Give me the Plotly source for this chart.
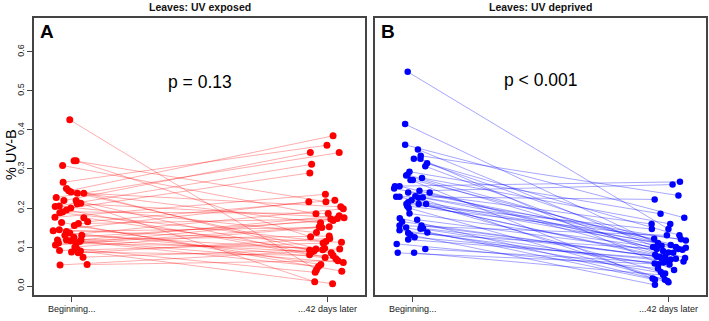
import plotly.graph_objects as go

time_labels = ["Beginning...", "...42 days later"]
time_positions = [1, 2]
panel_titles = ["Leaves: UV exposed", "Leaves: UV deprived"]
panel_letters = ["A", "B"]
p_labels = ["p = 0.13", "p < 0.001"]
y_ticks = [0.0, 0.1, 0.2, 0.3, 0.4, 0.5, 0.6]
y_label = "% UV-B"

# Panel A (UV exposed): paired leaves, value at beginning and after 42 days
exposed_begin = [0.426, 0.321, 0.321, 0.309, 0.266, 0.250, 0.244, 0.241, 0.227, 0.238, 0.238, 0.219, 0.219,
                 0.204, 0.205, 0.211, 0.212, 0.200, 0.195, 0.190, 0.188, 0.176, 0.175, 0.160, 0.155, 0.165,
                 0.142, 0.144, 0.140, 0.136, 0.130, 0.130, 0.125, 0.118, 0.118, 0.116, 0.118, 0.105, 0.110,
                 0.110, 0.114, 0.100, 0.091, 0.087, 0.085, 0.090, 0.074, 0.054, 0.055, 0.163, 0.095]
exposed_begin_jitter = [-0.008, 0.009, 0.017, -0.036, -0.034, -0.021, -0.012, -0.003, -0.061, 0.022, 0.047, -0.031,
                        0.017, -0.065, -0.049, 0.021, 0.035, -0.004, -0.021, -0.036, -0.047, -0.066, 0.047, 0.026,
                        0.010, 0.062, -0.073, -0.049, -0.021, -0.008, -0.027, 0.039, 0.008, -0.056, -0.021, -0.005,
                        0.036, -0.064, -0.052, 0.018, 0.031, 0.012, -0.048, -0.001, 0.025, 0.034, 0.044, -0.046,
                        0.060, -0.040, 0.020]
exposed_end = [0.042, 0.216, 0.126, 0.185, 0.361, 0.092, 0.385, 0.162, 0.342, 0.093, 0.203, 0.342, 0.073, 0.312,
               0.137, 0.175, 0.011, 0.290, 0.080, 0.186, 0.114, 0.235, 0.085, 0.172, 0.055, 0.220, 0.216, 0.112,
               0.150, 0.070, 0.198, 0.095, 0.168, 0.128, 0.060, 0.180, 0.088, 0.152, 0.097, 0.173, 0.050, 0.152,
               0.110, 0.078, 0.122, 0.006, 0.095, 0.090, 0.065, 0.038, 0.035]
exposed_end_jitter = [-0.042, -0.005, -0.065, -0.044, -0.001, -0.069, 0.023, -0.026, 0.047, -0.018, 0.053, -0.066,
                      -0.008, -0.061, -0.042, 0.066, -0.049, -0.068, -0.069, 0.004, -0.005, -0.007, 0.016, 0.014,
                      -0.025, 0.030, -0.072, 0.056, -0.021, 0.034, 0.063, -0.044, 0.023, 0.008, 0.063, 0.047,
                      -0.060, -0.031, -0.010, 0.040, -0.034, 0.008, -0.016, 0.023, 0.010, 0.021, 0.049, -0.052,
                      0.042, 0.057, -0.047]

# Panel B (UV deprived)
deprived_begin = [0.549, 0.415, 0.362, 0.350, 0.334, 0.326, 0.326, 0.315, 0.307, 0.293, 0.285, 0.283, 0.277,
                  0.272, 0.272, 0.256, 0.256, 0.250, 0.244, 0.240, 0.240, 0.229, 0.229, 0.230, 0.226, 0.227,
                  0.220, 0.215, 0.210, 0.200, 0.205, 0.210, 0.210, 0.186, 0.174, 0.165, 0.155, 0.143, 0.170,
                  0.150, 0.155, 0.148, 0.147, 0.137, 0.136, 0.131, 0.119, 0.125, 0.108, 0.095, 0.085, 0.085]
deprived_begin_jitter = [-0.020, -0.030, -0.030, 0.020, 0.031, 0.004, 0.030, 0.056, 0.049, -0.013, -0.021, -0.026,
                         0.036, -0.009, 0.000, -0.070, -0.052, -0.073, 0.026, 0.066, -0.018, -0.065, -0.052, 0.010,
                         0.023, 0.039, -0.005, -0.018, -0.025, -0.016, -0.022, 0.052, 0.023, -0.013, -0.051,
                         -0.042, -0.052, -0.052, 0.017, -0.026, 0.034, 0.040, 0.030, 0.057, -0.018, -0.009, -0.018,
                         0.007, -0.063, 0.049, -0.059, 0.005]
deprived_end = [0.146, 0.103, 0.175, 0.086, 0.232, 0.095, 0.041, 0.130, 0.076, 0.185, 0.110, 0.072, 0.159, 0.019,
                0.098, 0.267, 0.085, 0.121, 0.260, 0.063, 0.159, 0.222, 0.036, 0.100, 0.013, 0.117, 0.105, 0.080,
                0.146, 0.016, 0.120, 0.093, 0.068, 0.100, 0.010, 0.075, 0.130, 0.058, 0.090, 0.016, 0.075, 0.070,
                0.056, 0.032, 0.095, 0.003, 0.070, 0.065, 0.045, 0.060, 0.055, 0.028]
deprived_end_jitter = [0.001, -0.026, 0.063, 0.001, 0.040, 0.040, 0.023, 0.044, -0.012, -0.030, -0.040, 0.066,
                       0.008, -0.061, 0.069, 0.046, 0.020, -0.055, 0.017, 0.060, -0.065, -0.053, -0.029, 0.030,
                       -0.003, 0.069, 0.010, -0.051, -0.064, -0.013, 0.050, 0.056, 0.010, -0.059, 0.001, -0.044,
                       -0.005, -0.053, -0.020, -0.052, -0.033, 0.030, -0.038, -0.012, -0.045, -0.052, -0.025,
                       -0.005, -0.040, -0.018, 0.005, -0.020]

W, H = 709, 321
FONT = "Liberation Sans, Arial, sans-serif"


def px(x):  # pixel x -> paper x
    return x / W


def py(y):  # pixel y (from top) -> paper y
    return (H - y) / H


fig = go.Figure()


def add_panel(begin, bjit, end, ejit, xa, ya, dot, seg, msize):
    lx, ly = [], []
    for b, bj, e, ej in zip(begin, bjit, end, ejit):
        lx += [time_positions[0] + bj, time_positions[1] + ej, None]
        ly += [b, e, None]
    fig.add_trace(go.Scatter(x=lx, y=ly, mode="lines", xaxis=xa, yaxis=ya,
                             line=dict(color=seg, width=1), hoverinfo="skip", showlegend=False))
    xs = [time_positions[0] + j for j in bjit] + [time_positions[1] + j for j in ejit]
    ys = list(begin) + list(end)
    fig.add_trace(go.Scatter(x=xs, y=ys, mode="markers", xaxis=xa, yaxis=ya,
                             marker=dict(color=dot, size=msize, line=dict(width=0)), showlegend=False))


add_panel(exposed_begin, exposed_begin_jitter, exposed_end, exposed_end_jitter,
          "x", "y", "#FF0000", "rgba(255,0,0,0.32)", 7)
add_panel(deprived_begin, deprived_begin_jitter, deprived_end, deprived_end_jitter,
          "x2", "y2", "#0000FF", "rgba(0,0,255,0.35)", 6.5)

box = dict(showline=True, linecolor="#444", linewidth=1.5, mirror=True, showgrid=False, zeroline=False)
xcommon = dict(range=[0.852, 2.148], tickvals=time_positions, showticklabels=False, ticks="outside", ticklen=5,
               tickcolor="#444", automargin=False, **box)
ycommon = dict(range=[-0.023, 0.687], automargin=False, **box)
panels = [(34, 365), (375, 706)]
ydom = [py(295), py(18)]

fig.update_layout(
    width=W, height=H, margin=dict(l=0, r=0, t=0, b=0),
    paper_bgcolor="white", plot_bgcolor="white",
    xaxis=dict(domain=[px(panels[0][0]), px(panels[0][1])], anchor="y", **xcommon),
    xaxis2=dict(domain=[px(panels[1][0]), px(panels[1][1])], anchor="y2", **xcommon),
    yaxis=dict(domain=ydom, anchor="x", tickvals=y_ticks,
               ticktext=[f"{v:.1f}" for v in y_ticks], ticks="outside", ticklen=5, tickcolor="#444",
               tickangle=-90, tickfont=dict(family=FONT, size=9, color="#222"), **ycommon),
    yaxis2=dict(domain=ydom, anchor="x2", showticklabels=False, ticks="", **ycommon),
)

ann = []
for i, (x0, x1) in enumerate(panels):
    xr = "x" if i == 0 else "x2"
    ann.append(dict(text=f"<b>{panel_titles[i]}</b>", x=px((x0 + x1) / 2), y=py(7),
                    xref="paper", yref="paper", showarrow=False, xanchor="center", yanchor="middle",
                    font=dict(family=FONT, size=10.5, color="#111")))
    ann.append(dict(text=f"<b>{panel_letters[i]}</b>", x=px(x0 + 4), y=py(31),
                    xref="paper", yref="paper", showarrow=False, xanchor="left", yanchor="middle",
                    font=dict(family=FONT, size=19, color="black")))
    for t, lab in zip(time_positions, time_labels):
        ann.append(dict(text=lab, x=t, y=py(309), xref=xr, yref="paper", showarrow=False,
                        xanchor="center", yanchor="middle", font=dict(family=FONT, size=9, color="#222")))
ann.append(dict(text=p_labels[0], x=1.5, y=0.523, xref="x", yref="y", showarrow=False,
                font=dict(family=FONT, size=17.5, color="black")))
ann.append(dict(text=p_labels[1], x=1.5, y=0.528, xref="x2", yref="y2", showarrow=False,
                font=dict(family=FONT, size=17.5, color="black")))
ann.append(dict(text=y_label, x=px(11), y=py(155), xref="paper", yref="paper", showarrow=False,
                xanchor="center", yanchor="middle", textangle=-90,
                font=dict(family=FONT, size=14.5, color="black")))
fig.update_layout(annotations=ann)

# the page's default 8px body margin would push the 709x321 figure off the window
fig.write_html("out.html", config={"displayModeBar": False},
               post_script="document.body.style.margin='0';document.body.style.overflow='hidden';")
